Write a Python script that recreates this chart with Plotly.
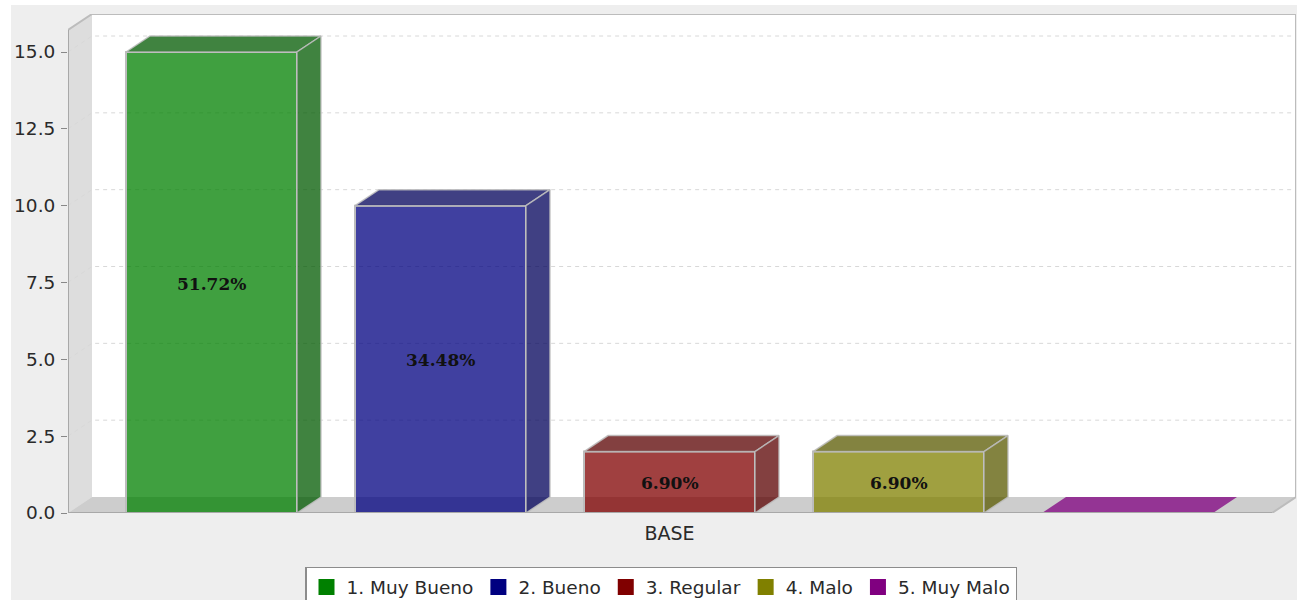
import plotly.graph_objects as go

series = ["1. Muy Bueno", "2. Bueno", "3. Regular", "4. Malo", "5. Muy Malo"]
values = [15, 10, 2, 2, 0]
pct_labels = ["51.72%", "34.48%", "6.90%", "6.90%", ""]
category = ["BASE"]
y_ticks = [0, 2.5, 5, 7.5, 10, 12.5, 15]

front_rgb = [(0, 128, 0), (0, 0, 128), (128, 0, 0), (128, 128, 0), (128, 0, 128)]
dark_rgb = [(0, 89, 0), (0, 0, 89), (89, 0, 0), (89, 89, 0), (89, 0, 89)]
ALPHA = 0.75

SLOT_PX = 229.0
PX_Y = 461 / 15.0
PLOT_W, PLOT_H = 1228, 499
X_MIN, X_MAX = -143.5 / SLOT_PX, (1296 - 211.5) / SLOT_PX
Y_MAX = PLOT_H / PX_Y
DX, DY = 24 / SLOT_PX, 16 / PX_Y
BAR_W = 171 / SLOT_PX

def rgba(c, a):
    return f"rgba({c[0]},{c[1]},{c[2]},{a})"

fig = go.Figure()
shapes = []
annotations = []
OUT = "#bcbcbc"

def poly(pts):
    return "M " + " L ".join(f"{x},{y}" for x, y in pts) + " Z"

# back wall, left wall, floor
shapes.append(dict(type="path", layer="below", xref="x", yref="y", line_width=0, fillcolor="white",
                   path=poly([(X_MIN + DX, DY), (X_MIN + DX, Y_MAX), (X_MAX, Y_MAX), (X_MAX, DY)])))
shapes.append(dict(type="path", layer="below", xref="x", yref="y", line_width=0, fillcolor="#dddddd",
                   path=poly([(X_MIN, 0), (X_MIN + DX, DY), (X_MIN + DX, Y_MAX), (X_MIN, Y_MAX - DY)])))
shapes.append(dict(type="path", layer="below", xref="x", yref="y", line_width=0, fillcolor="#cdcdcd",
                   path=poly([(X_MIN, 0), (X_MIN + DX, DY), (X_MAX, DY), (X_MAX - DX, 0)])))
# dashed gridlines
for t in y_ticks[1:]:
    shapes.append(dict(type="path", layer="below", xref="x", yref="y", fillcolor="rgba(0,0,0,0)",
                       line=dict(color="#d8d8d8", width=1, dash="4px,4px"),
                       path=f"M {X_MIN},{t} L {X_MIN + DX},{t + DY} L {X_MAX},{t + DY}"))
# outline
shapes.append(dict(type="path", layer="below", xref="x", yref="y", fillcolor="rgba(0,0,0,0)",
                   line=dict(color=OUT, width=2),
                   path=poly([(X_MIN, 0), (X_MIN, Y_MAX - DY), (X_MIN + DX, Y_MAX), (X_MAX, Y_MAX),
                              (X_MAX, DY), (X_MAX - DX, 0)])))

for i, (name, v) in enumerate(zip(series, values)):
    # front face
    fig.add_trace(go.Bar(
        x=[i], y=[v], width=BAR_W,
        marker=dict(color=rgba(front_rgb[i], ALPHA), line=dict(color="#bcbcbc", width=2)),
        showlegend=False, hoverinfo="skip"))
    if pct_labels[i]:
        annotations.append(dict(x=i, y=v / 2, xref="x", yref="y", text=pct_labels[i], showarrow=False,
                                yshift=-1, font=dict(family="DejaVu Serif", size=17, color="#111111", weight="bold")))
    l, r = i - BAR_W / 2, i + BAR_W / 2
    edge = "rgba(190,190,190,0.85)"
    # top face
    fig.add_trace(go.Scatter(
        x=[l, l + DX, r + DX, r, l], y=[v, v + DY, v + DY, v, v], mode="lines", fill="toself",
        fillcolor=rgba(dark_rgb[i] if v > 0 else front_rgb[i], ALPHA),
        line=dict(color=edge if v > 0 else "rgba(0,0,0,0)", width=1.5),
        showlegend=False, hoverinfo="skip"))
    # right side
    if v > 0:
        fig.add_trace(go.Scatter(
            x=[r, r + DX, r + DX, r, r], y=[0, DY, v + DY, v, 0], mode="lines", fill="toself",
            fillcolor=rgba(dark_rgb[i], ALPHA), line=dict(color=edge, width=1.5),
            showlegend=False, hoverinfo="skip"))
    # legend entry
    fig.add_trace(go.Scatter(
        x=[None], y=[None], mode="markers", name=name,
        marker=dict(symbol="square", size=16, color=rgba(front_rgb[i], 1))))

# axis lines
fig.add_trace(go.Scatter(x=[X_MIN, X_MIN], y=[0, Y_MAX - DY], mode="lines",
                         line=dict(color="#a8a8a8", width=2), showlegend=False, hoverinfo="skip"))
fig.add_trace(go.Scatter(x=[X_MIN, X_MAX - DX], y=[0, 0], mode="lines",
                         line=dict(color="#a8a8a8", width=2), showlegend=False, hoverinfo="skip"))

fig.update_layout(
    width=1286, height=595,
    margin=dict(l=57, r=1, t=9, b=87, pad=0, autoexpand=False),
    paper_bgcolor="#eeeeee", plot_bgcolor="rgba(0,0,0,0)",
    barmode="overlay", shapes=shapes, annotations=annotations,
    font=dict(family="DejaVu Sans", size=18, color="#2a2a2a"),
    xaxis=dict(range=[X_MIN, X_MAX], tickmode="array", tickvals=[2], ticktext=category,
               ticks="outside", ticklen=3, tickcolor="rgba(0,0,0,0)", showgrid=False, zeroline=False,
               showline=False, tickfont=dict(size=19, color="#2a2a2a")),
    yaxis=dict(range=[0, Y_MAX], tickmode="array", tickvals=y_ticks,
               ticktext=[f"{t:.1f}" for t in y_ticks],
               ticks="outside", ticklen=6, tickcolor="#888888", tickwidth=1, showgrid=False, zeroline=False,
               showline=False, ticklabelstandoff=2, tickfont=dict(size=18.5, color="#2a2a2a")),
    legend=dict(orientation="h", x=0.4829, xanchor="center", y=-0.108, yanchor="top",
                bgcolor="white", bordercolor="#8c8c8c", borderwidth=1.5,
                font=dict(size=18.5, color="#2a2a2a")),
)

fig.write_html("out.html", config={"displayModeBar": False},
               post_script="document.body.style.margin='5px 0 0 11px';document.body.style.overflow='hidden';")
